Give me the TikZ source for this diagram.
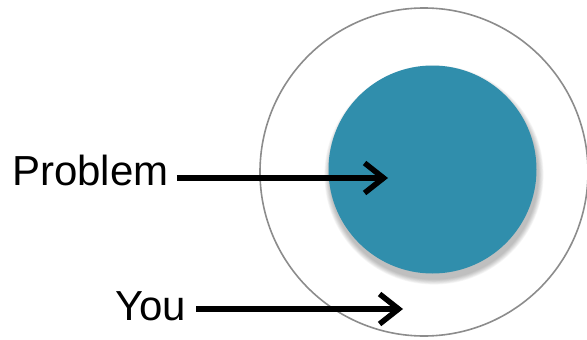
\documentclass[tikz,border=0pt]{standalone}
\usepackage{fontspec}
\setmainfont{Liberation Sans}
\usetikzlibrary{arrows.meta}
\definecolor{tealfill}{RGB}{48,142,172}
\definecolor{ringgray}{RGB}{140,140,140}
\tikzset{
  lbl/.style={font=\fontsize{42}{46}\selectfont, inner sep=0pt, anchor=base west},
  pointer/.style={line width=5.5pt, -{Straight Barb[length=19pt,width=30pt,line width=5.5pt]}},
}
\begin{document}
\begin{tikzpicture}[x=1pt,y=-1pt]
\useasboundingbox (0,0) rectangle (587,340);
% outer ring
\node[draw=ringgray, line width=1.6pt, circle, minimum size=328pt, inner sep=0pt] (ring) at (424,172) {};
% shadow of inner disc
\foreach \i in {1,...,8}{
  \fill[black, opacity=0.035] (434,175) circle[radius={(104+0.7*\i)*1pt}];
}
% inner disc
\node[fill=tealfill, circle, minimum size=208pt, inner sep=0pt] (disc) at (432.5,169.5) {};
% labels
\node[lbl] (problem) at (12,185) {Problem};
\node[lbl] (you) at (115,320) {You};
\coordinate (ptip) at (388,178);
\coordinate (ytip) at (403,309);
\draw[pointer] (problem.east |- ptip) ++(8,0) coordinate (pstart) -- (ptip);
\draw[pointer] (you.east |- ytip) ++(10,0) coordinate (ystart) -- (ytip);
\end{tikzpicture}
\end{document}
